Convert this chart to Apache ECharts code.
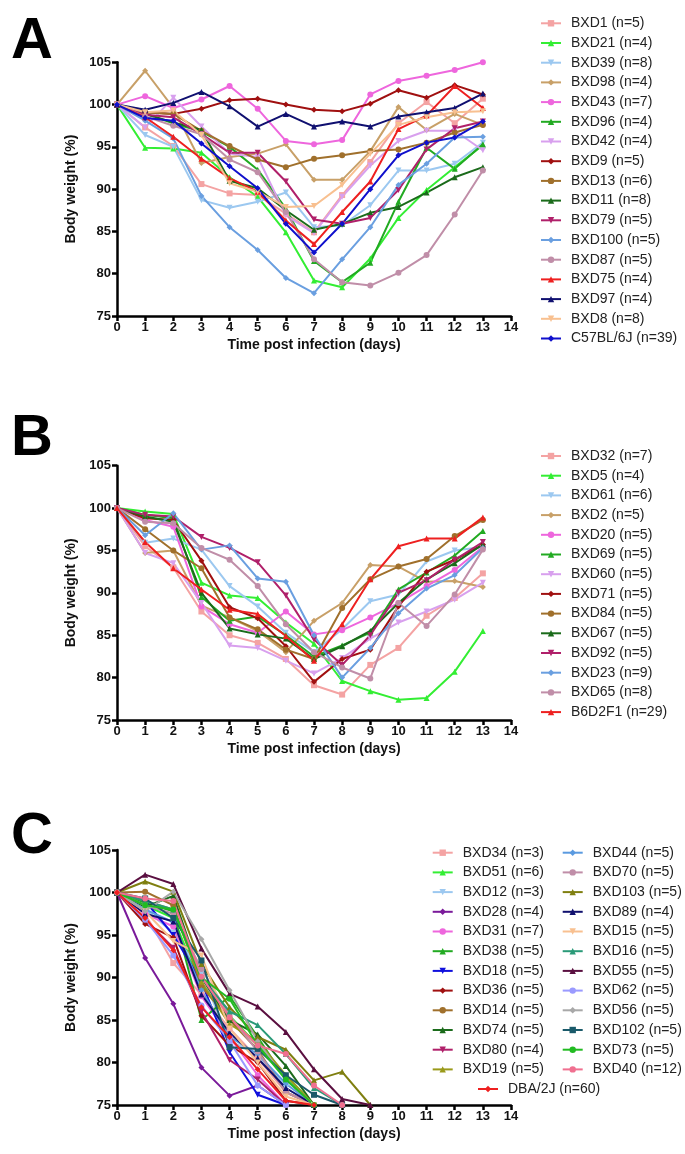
<!DOCTYPE html>
<html><head><meta charset="utf-8">
<script src="https://cdn.jsdelivr.net/npm/echarts@6/dist/echarts.min.js"></script>
<style>html,body{margin:0;padding:0;background:#fff}#c{width:685px;height:1154px}</style>
</head><body><div id="c"></div><script>
// ---------- DATA ----------
const days = [0,1,2,3,4,5,6,7,8,9,10,11,12,13];
const yTicks = [75,80,85,90,95,100,105];
const xTicks = [0,1,2,3,4,5,6,7,8,9,10,11,12,13,14];

// Panel A
const A_BXD1   = [100,97.3,95.1,90.6,89.5,89.3,87.1,84.9,89.3,93.2,97.8,100.3,97.8,100.7];
const A_BXD21  = [100,94.9,94.8,94.3,91.4,89.1,84.9,79.2,78.4,81.8,86.6,89.9,92.6,95.2];
const A_BXD39  = [100,96.4,95.0,88.7,87.8,88.5,89.6,85.5,85.7,88.1,92.2,92.2,93.0,95.5];
const A_BXD98  = [100,104.0,99.6,93.1,93.8,94.2,95.3,91.1,91.1,94.5,99.7,97.0,98.9,97.6];
const A_BXD43  = [100,101.0,99.6,100.6,102.2,99.5,95.7,95.3,95.8,101.2,102.8,103.4,104.1,105.0];
const A_BXD96  = [100,98.9,97.8,96.8,95.0,92.3,87.7,81.5,79.0,81.3,88.5,94.9,92.4,95.3];
const A_BXD42  = [100,97.3,100.8,97.4,94.2,93.8,86.9,84.8,89.1,92.8,95.7,96.9,96.9,94.6];
const A_BXD9   = [100,99.1,98.9,99.5,100.5,100.7,100.0,99.4,99.2,100.1,101.7,100.8,102.3,101.2];
const A_BXD13  = [100,99.1,98.9,96.9,95.1,93.5,92.6,93.6,94.0,94.5,94.7,95.5,96.7,97.6];
const A_BXD11  = [100,98.9,97.9,97.0,91.0,90.1,87.5,85.2,85.9,87.2,87.9,89.6,91.4,92.6];
const A_BXD79  = [100,98.8,98.5,96.5,94.3,94.3,90.9,86.4,85.9,86.6,89.9,94.7,97.2,98.0];
const A_BXD100 = [100,98.1,96.0,89.2,85.5,82.8,79.5,77.7,81.7,85.5,90.5,93.0,96.1,96.2];
const A_BXD87  = [100,98.6,97.5,96.5,93.5,92.0,87.3,81.7,79.0,78.6,80.1,82.2,87.0,92.2];
const A_BXD75  = [100,98.5,96.2,93.6,91.3,89.7,86.3,83.5,87.3,90.9,97.1,98.7,102.2,99.6];
const A_BXD97  = [100,99.4,100.2,101.5,99.8,97.4,98.9,97.4,98.0,97.4,98.6,99.1,99.6,101.3];
const A_BXD8   = [100,99.1,99.3,96.4,90.7,89.7,87.9,88.0,90.5,94.2,97.6,98.5,99.1,99.2];
const A_C57    = [100,98.4,98.1,95.4,92.7,90.1,85.9,82.5,85.9,90.0,94.0,95.5,96.1,98.0];

// Panel B
const B_BXD32  = [100,95.5,93.0,87.8,85.0,84.1,82.2,79.1,78.0,81.5,83.5,87.3,89.4,92.3];
const B_BXD5   = [100,99.6,99.3,91.2,89.7,89.4,86.5,84.0,79.6,78.4,77.4,77.6,80.7,85.5];
const B_BXD61  = [100,95.9,96.4,95.1,90.8,88.4,85.3,83.0,85.7,89.0,89.8,93.7,95.0,95.4];
const B_BXD2   = [100,94.7,95.0,88.5,87.1,85.5,83.0,86.7,88.8,93.3,93.1,91.3,91.4,90.7];
const B_BXD20  = [100,98.6,97.8,88.4,86.3,85.3,87.8,85.1,85.6,87.1,88.8,90.8,92.7,95.4];
const B_BXD69  = [100,99.2,98.8,89.5,86.7,87.2,85.0,82.5,83.8,85.3,90.4,92.4,94.4,97.3];
const B_BXD60  = [100,94.7,93.5,88.8,83.8,83.5,82.0,80.5,82.3,84.6,86.5,87.8,89.2,91.2];
const B_BXD71  = [100,98.8,98.6,93.8,88.3,87.0,83.7,79.5,82.2,83.3,88.4,92.5,93.9,95.7];
const B_BXD84  = [100,97.5,95.0,92.9,87.1,85.7,83.3,82.2,88.2,91.6,93.1,94.0,96.7,98.6];
const B_BXD67  = [100,99.0,98.4,90.0,85.8,85.1,84.6,82.2,83.7,85.5,88.8,91.6,93.5,95.7];
const B_BXD92  = [100,99.2,99.0,96.6,95.3,93.6,89.7,84.5,81.5,85.0,90.0,91.5,93.9,96.0];
const B_BXD23  = [100,96.8,99.4,95.1,95.6,91.7,91.3,85.0,80.0,83.5,87.6,90.5,92.1,95.3];
const B_BXD65  = [100,98.4,98.2,95.3,93.9,90.8,86.3,83.0,81.2,79.9,88.8,86.1,89.8,95.1];
const B_B6D2F1 = [100,96.0,92.9,90.4,88.0,87.5,84.9,82.0,86.3,91.6,95.5,96.4,96.4,98.9];

// Panel C
const C_BXD34  = [100,97.5,91.7,88.0,84.0,80.5,76.5,75];
const C_BXD51  = [100,98.5,97.0,89.0,85.5,82.0,78.5,75];
const C_BXD12  = [100,98.0,95.3,90.5,82.5,81.0,77.0,75];
const C_BXD28  = [100,92.3,86.9,79.4,76.1,77.3,75];
const C_BXD31  = [100,97.5,96.0,87.8,83.0,78.5,75];
const C_BXD38  = [100,98.8,97.8,85.0,87.8,83.0,78.0,75];
const C_BXD18  = [100,99.0,95.0,89.5,81.2,76.2,75];
const C_BXD36  = [100,96.3,94.7,85.5,82.0,80.0,75.5,75];
const C_BXD14  = [100,100.1,98.5,89.0,85.0,81.5,76.5,75];
const C_BXD74  = [100,98.3,99.6,90.0,85.0,83.3,79.6,75];
const C_BXD80  = [100,96.8,93.5,86.0,80.3,78.0,75];
const C_BXD19  = [100,99.0,98.0,89.5,84.5,82.5,78.5,75];
const C_DBA    = [100,97.0,93.2,86.5,83.0,79.2,75.5,75];
const C_BXD44  = [100,98.0,96.5,88.5,83.0,81.0,77.5,75];
const C_BXD70  = [100,98.5,97.5,91.0,85.5,81.3,76.5,75];
const C_BXD103 = [100,101.3,100.1,91.6,86.5,83.0,81.5,77.9,78.9,75];
const C_BXD89  = [100,97.5,96.6,88.0,83.5,80.5,77.0,75];
const C_BXD15  = [100,97.8,94.3,92.6,84.0,80.0,76.0,75];
const C_BXD16  = [100,99.0,98.0,90.0,86.0,84.4,81.0,77.0,75];
const C_BXD55  = [100,102.1,101.0,93.4,88.1,86.6,83.6,79.2,75.7,75];
const C_BXD62  = [100,96.8,92.6,86.7,82.5,77.3,75];
const C_BXD56  = [100,97.8,100.1,94.5,88.5,82.5,78.0,75];
const C_BXD102 = [100,99.3,97.0,92.0,81.8,81.6,78.5,76.2,75];
const C_BXD73  = [100,98.5,98.0,90.0,87.5,82.0,78.0,75];
const C_BXD40  = [100,99.3,99.0,90.1,85.3,82.0,81.0,77.3,75];

// series lists: [label, color, marker, values]
const panelA = [
 ['BXD1 (n=5)','#F4A3A3','rect',A_BXD1],['BXD21 (n=4)','#33EE33','triangle',A_BXD21],
 ['BXD39 (n=8)','#9CC8F0','tdown',A_BXD39],['BXD98 (n=4)','#C8A068','diamond',A_BXD98],
 ['BXD43 (n=7)','#EE66DD','circle',A_BXD43],['BXD96 (n=4)','#22AA22','triangle',A_BXD96],
 ['BXD42 (n=4)','#D8A0EE','tdown',A_BXD42],['BXD9 (n=5)','#A01010','diamond',A_BXD9],
 ['BXD13 (n=6)','#A0702C','circle',A_BXD13],['BXD11 (n=8)','#1B6B1B','triangle',A_BXD11],
 ['BXD79 (n=5)','#B0206A','tdown',A_BXD79],['BXD100 (n=5)','#6A9FE0','diamond',A_BXD100],
 ['BXD87 (n=5)','#C08EA8','circle',A_BXD87],['BXD75 (n=4)','#EE2020','triangle',A_BXD75],
 ['BXD97 (n=4)','#101070','triangle',A_BXD97],['BXD8 (n=8)','#F8C090','tdown',A_BXD8],
 ['C57BL/6J (n=39)','#1010CC','diamond',A_C57]
];
const panelB = [
 ['BXD32 (n=7)','#F4A3A3','rect',B_BXD32],['BXD5 (n=4)','#33EE33','triangle',B_BXD5],
 ['BXD61 (n=6)','#9CC8F0','tdown',B_BXD61],['BXD2 (n=5)','#C8A068','diamond',B_BXD2],
 ['BXD20 (n=5)','#EE66DD','circle',B_BXD20],['BXD69 (n=5)','#22AA22','triangle',B_BXD69],
 ['BXD60 (n=5)','#D8A0EE','tdown',B_BXD60],['BXD71 (n=5)','#A01010','diamond',B_BXD71],
 ['BXD84 (n=5)','#A0702C','circle',B_BXD84],['BXD67 (n=5)','#1B6B1B','triangle',B_BXD67],
 ['BXD92 (n=5)','#B0206A','tdown',B_BXD92],['BXD23 (n=9)','#6A9FE0','diamond',B_BXD23],
 ['BXD65 (n=8)','#C08EA8','circle',B_BXD65],['B6D2F1 (n=29)','#EE2020','triangle',B_B6D2F1]
];
const panelC1 = [
 ['BXD34 (n=3)','#F4A3A3','rect',C_BXD34],['BXD51 (n=6)','#33EE33','triangle',C_BXD51],
 ['BXD12 (n=3)','#9CC8F0','tdown',C_BXD12],['BXD28 (n=4)','#7A1A9A','diamond',C_BXD28],
 ['BXD31 (n=7)','#EE66DD','circle',C_BXD31],['BXD38 (n=5)','#22AA22','triangle',C_BXD38],
 ['BXD18 (n=5)','#1010DD','tdown',C_BXD18],['BXD36 (n=5)','#A01010','diamond',C_BXD36],
 ['BXD14 (n=5)','#A0702C','circle',C_BXD14],['BXD74 (n=5)','#1B6B1B','triangle',C_BXD74],
 ['BXD80 (n=4)','#B0206A','tdown',C_BXD80],['BXD19 (n=5)','#9A9A1A','triangle',C_BXD19]
];
const panelC2 = [
 ['BXD44 (n=5)','#5A9AE0','diamond',C_BXD44],['BXD70 (n=5)','#C08EA8','circle',C_BXD70],
 ['BXD103 (n=5)','#7F7F10','triangle',C_BXD103],['BXD89 (n=4)','#10106E','triangle',C_BXD89],
 ['BXD15 (n=5)','#F8C090','tdown',C_BXD15],['BXD16 (n=5)','#2A9A78','triangle',C_BXD16],
 ['BXD55 (n=5)','#5A0F40','triangle',C_BXD55],['BXD62 (n=5)','#9A9AFF','circle',C_BXD62],
 ['BXD56 (n=5)','#A8A8A8','diamond',C_BXD56],['BXD102 (n=5)','#1A5A6A','rect',C_BXD102],
 ['BXD73 (n=5)','#22BB22','circle',C_BXD73],['BXD40 (n=12)','#F07090','circle',C_BXD40]
];
const panelC3 = [['DBA/2J (n=60)','#EE2020','diamond',C_DBA]];

// ---------- CHART ----------
const FONT = '"Liberation Sans", Arial, sans-serif';
const chart = echarts.init(document.getElementById('c'), null, {renderer:'canvas'});

function mkSeries(list, idx){
  return list.map(([name,color,sym,vals]) => ({
    type:'line', name, xAxisIndex:idx, yAxisIndex:idx,
    data: vals.map((v,i)=>[days[i], v]),
    symbol: sym==='tdown' ? 'triangle' : sym,
    symbolRotate: sym==='tdown' ? 180 : 0,
    symbolSize: 6, showSymbol:true,
    lineStyle:{width:2,color}, itemStyle:{color}, color,
    clip:true, animation:false, emphasis:{disabled:true}
  }));
}
const panels = [
  {top:62.3, height:253.7},
  {top:465.7, height:254.3},
  {top:850, height:255}
];
const grids = panels.map(p=>({left:117, width:394, top:p.top, height:p.height, containLabel:false}));
const axisLine = {show:true, lineStyle:{color:'#000', width:2.5}};
const axisTick = {show:true, inside:false, length:5, lineStyle:{color:'#000', width:2.5}};
const xAxes = panels.map((p,i)=>({
  type:'value', gridIndex:i, min:0, max:14, interval:1,
  axisLine, axisTick, splitLine:{show:false},
  axisLabel:{fontFamily:FONT, fontWeight:'bold', fontSize:13, color:'#111', margin:5,
    formatter: v => xTicks.includes(v) ? String(v) : ''},
  name:'Time post infection (days)', nameLocation:'middle', nameGap:22,
  nameTextStyle:{fontFamily:FONT, fontWeight:'bold', fontSize:14, color:'#111'}
}));
const yAxes = panels.map((p,i)=>({
  type:'value', gridIndex:i, min:75, max:105, interval:5,
  axisLine, axisTick, splitLine:{show:false},
  axisLabel:{fontFamily:FONT, fontWeight:'bold', fontSize:13, color:'#111', margin:6,
    formatter: v => yTicks.includes(v) ? String(v) : ''},
  name:'Body weight (%)', nameLocation:'middle', nameGap:31, nameRotate:90,
  nameTextStyle:{fontFamily:FONT, fontWeight:'bold', fontSize:14, color:'#111'}
}));
function mkLegend(list, left, top){
  return {
    data: list.map(s=>s[0]), orient:'vertical', left, top, padding:0,
    itemWidth:20, itemHeight:8, itemGap:3.7, selectedMode:false,
    textStyle:{fontFamily:FONT, fontSize:14, color:'#222', lineHeight:16, padding:[0,0,0,5]}
  };
}
const letter = (t, top) => ({type:'text', left:11, top, style:{text:t, font:'bold 58px '+FONT, fill:'#000'}});

chart.setOption({
  animation:false,
  backgroundColor:'#fff',
  grid: grids, xAxis: xAxes, yAxis: yAxes,
  legend: [
    mkLegend(panelA, 540, 15.3),
    mkLegend(panelB, 540, 448),
    mkLegend(panelC1, 431.7, 844.7),
    mkLegend(panelC2, 561.7, 844.7),
    mkLegend(panelC3, 477, 1081)
  ],
  graphic: [letter('A', 13), letter('B', 410), letter('C', 808)],
  series: [...mkSeries(panelA,0), ...mkSeries(panelB,1), ...mkSeries(panelC1,2), ...mkSeries(panelC2,2), ...mkSeries(panelC3,2)]
});
</script></body></html>
